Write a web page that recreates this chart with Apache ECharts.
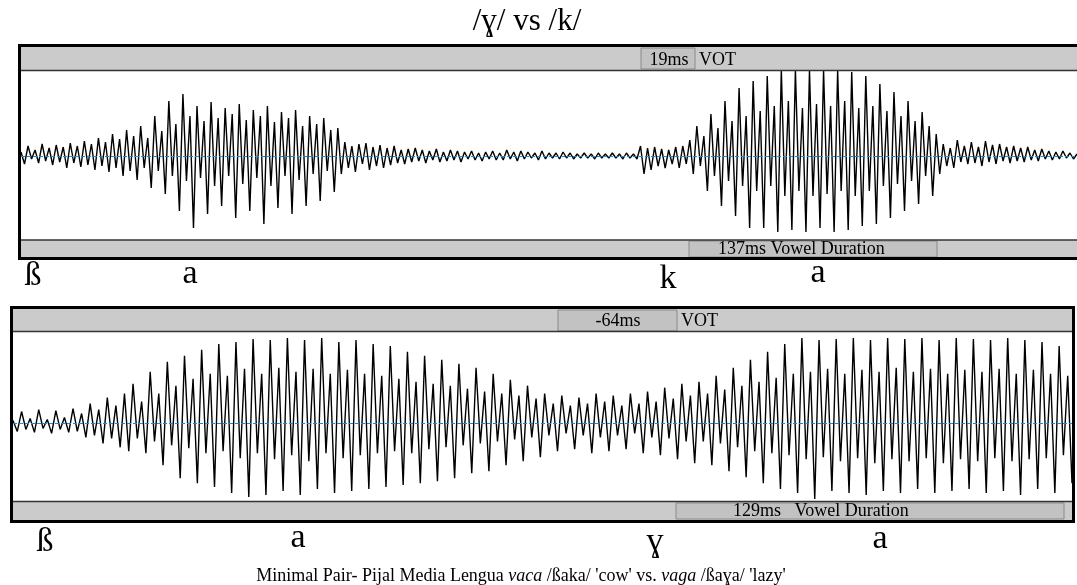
<!DOCTYPE html>
<html>
<head>
<meta charset="utf-8">
<title>/ɣ/ vs /k/</title>
<script src="https://cdn.jsdelivr.net/npm/echarts@6/dist/echarts.min.js"></script>
<style>
  body { margin: 0; background: #fff; }
  #container { width: 1077px; height: 585px; }
</style>
</head>
<body>
<div id="container"></div>
<script type="text/javascript">

// waveform extremes, amplitude units (+ = up)
// top panel: vaca /ßaka/
var topBeta = [4,-8,10,-3,6,-7,12,-5,8,-9,11,-6,9,-12,13,-7,10,-11,15,-9,12,-14,18,-10,14,-16,22,-12,17,-20,26,-15,20,-24];
var topA1 = [30,-12,18,-32, 40,-15,25,-38, 55,-20,32,-55, 62,-25,40,-72, 50,-22,35,-58, 54,-30,38,-50,
             48,-20,42,-62, 52,-28,36,-55, 46,-22,40,-68, 50,-30,34,-52, 44,-20,38,-58, 46,-24,30,-50,
             40,-18,32,-45, 38,-15,26,-36, 28,-18];
var topGap = [14,-12,10,-16,12,-8,13,-14,9,-10, 11,-12,8,-9,10,-7,6,-8,7,-6, 8,-5,6,-7,5,-4,7,-6,4,-5,
              6,-4,5,-6,4,-3,5,-4,3,-5, 4,-3,5,-4,3,-4,6,-3,4,-5, 5,-3,4,-2,3,-4,5,-3,3,-2,
              3,-3,4,-2,3,-3,2,-2,3,-2, 2,-3,3,-2,2,-2,3,-2,2,-3, 3,-2,2,-3];
var topK = [10,-18,8,-14,9,-10,7,-12,6,-8,9,-12,10,-8,16,-18];
var topA2 = [30,-10,20,-35, 42,-20,28,-50, 55,-25,35,-60, 68,-30,40,-72, 75,-35,45,-72, 80,-30,50,-76,
             86,-40,55,-74, 86,-35,48,-76, 86,-40,52,-72, 86,-38,50,-76, 86,-35,55,-74, 84,-40,48,-70,
             80,-35,50,-68, 72,-30,45,-62, 64,-28,40,-55, 55,-25,35,-48, 44,-20,30,-40];
var topTail = [22,-18,12,-10,8,-12,16,-6,10,-8, 14,-7,9,-10,15,-6,11,-8,12,-5, 9,-7,10,-5,8,-6,9,-4,6,-5,
               7,-3,5,-4,4,-3,5,-2,3,-3, 2];

// bottom panel: vaga /ßaɣa/
var botBeta = [3,-8,12,-6, 5,-9,14,-5, 4,-10,13,-6, 6,-9,15,-8, 10,-14,20,-12, 14,-20,26,-15, 18,-24,30,-28];
var botA1 = [40,-15,22,-30, 52,-18,30,-42, 62,-22,38,-55, 68,-25,45,-60, 74,-30,50,-64, 80,-28,48,-70,
             82,-35,55,-74, 85,-30,50,-72, 84,-36,56,-68, 86,-32,52,-72, 84,-38,55,-66, 86,-30,50,-70,
             82,-35,54,-68, 84,-32,50,-66, 80,-30,48,-64, 78,-28,45,-62, 72,-30,42,-60, 68,-26,40,-58,
             64,-24,38,-55, 60,-22,35,-50, 56,-20,32,-48, 50,-18,30,-42, 44,-16,28,-38, 38,-14,25,-34];
var botG = [30,-12,20,-28, 28,-10,18,-26, 26,-12,20,-30, 30,-14,22,-28, 28,-12,18,-26, 30,-10,20,-30,
            32,-14,22,-32, 36,-15,25,-36, 40,-18,28,-40];
var botA2 = [42,-18,30,-42, 48,-20,34,-48, 56,-24,38,-54, 64,-28,42,-60, 72,-30,46,-66, 80,-32,50,-70,
             86,-36,52,-76, 84,-34,55,-68, 85,-38,50,-70, 86,-35,54,-72, 84,-40,52,-68, 86,-36,56,-70,
             85,-38,52,-66, 86,-35,55,-70, 84,-40,50,-68, 86,-36,54,-66, 85,-38,52,-70, 84,-35,55,-68,
             86,-38,50,-72, 84,-36,54,-66, 82,-35,50,-70, 78,-32,48,-60];

var topWave = topBeta.concat(topA1, topGap, topK, topA2, topTail);
var botWave = botBeta.concat(botA1, botG, botA2);

var title = '/ɣ/ vs /k/';
var topSegs = ['ß', 'a', 'k', 'a'];
var botSegs = ['ß', 'a', 'ɣ', 'a'];
var topVot = ['19ms', 'VOT'];
var botVot = ['-64ms', 'VOT'];
var topVowel = '137ms Vowel Duration';
var botVowel = '129ms   Vowel Duration';

var SERIF = '"Liberation Serif", "Times New Roman", serif';

function toXY(arr) {
    return arr.map(function (v, i) { return [i, v]; });
}
function txt(x, y, s, size, align) {
    return {
        type: 'text', x: x, y: y, z: 10,
        style: { text: s, font: size + 'px ' + SERIF, fill: '#000',
                 textAlign: align || 'center', textVerticalAlign: 'middle' }
    };
}
function rect(x, y, w, h, fill, stroke, lw) {
    return {
        type: 'rect', z: 5, shape: { x: x, y: y, width: w, height: h },
        style: { fill: fill, stroke: stroke || null, lineWidth: lw || 0 }
    };
}
function hline(x1, x2, y, color, lw) {
    return {
        type: 'line', z: 6, shape: { x1: x1, y1: y, x2: x2, y2: y },
        style: { stroke: color, lineWidth: lw }
    };
}

var gfx = [
    txt(527, 22, title, 31),

    // top panel frame
    rect(21, 47, 1060, 23, '#cbcbcb'),
    hline(21, 1081, 70.5, '#333', 1.5),
    rect(641, 48, 54, 21, '#c2c2c2', '#8a8a8a', 1),
    txt(669, 60, topVot[0], 18),
    txt(699, 60, topVot[1], 18, 'left'),
    rect(21, 240, 1060, 18, '#cbcbcb'),
    hline(21, 1081, 240, '#333', 1.5),
    rect(689, 241, 248, 16, '#c2c2c2', '#8a8a8a', 1),
    txt(718, 249.5, topVowel, 18, 'left'),
    rect(19.5, 45.5, 1075, 213, 'none', '#000', 3),

    // bottom panel frame
    rect(13, 309, 1059, 22, '#cbcbcb'),
    hline(13, 1072, 331.5, '#333', 1.5),
    rect(558, 310, 119, 21, '#c2c2c2', '#8a8a8a', 1),
    txt(618, 321, botVot[0], 18),
    txt(681, 321, botVot[1], 18, 'left'),
    rect(13, 502, 1059, 18, '#cbcbcb'),
    hline(13, 1072, 501.5, '#333', 1.5),
    rect(676, 503, 388, 16, '#c2c2c2', '#8a8a8a', 1),
    txt(733, 511.5, botVowel, 18, 'left'),
    rect(11.5, 307.5, 1062, 214, 'none', '#000', 3),

    // segment labels
    txt(33, 276, topSegs[0], 34), txt(190, 274, topSegs[1], 34),
    txt(668, 279, topSegs[2], 34), txt(818, 273, topSegs[3], 34),
    txt(45, 542, botSegs[0], 34), txt(298, 538, botSegs[1], 34),
    txt(655, 542, botSegs[2], 34), txt(880, 539, botSegs[3], 34),

    {
        type: 'text', x: 521, y: 576, z: 10,
        style: {
            text: '{n|Minimal Pair- Pijal Media Lengua }{i|vaca}{n| /ßaka/ \'cow\' vs. }{i|vaga}{n| /ßaɣa/ \'lazy\'}',
            textAlign: 'center', textVerticalAlign: 'middle',
            rich: {
                n: { font: '18px ' + SERIF, fill: '#000' },
                i: { font: 'italic 18px ' + SERIF, fill: '#000' }
            }
        }
    }
];

var centerLine = {
    silent: true, symbol: 'none', label: { show: false },
    lineStyle: { color: '#1a8ad4', type: 'dashed', width: 1 },
    data: [{ yAxis: 0 }]
};

var myChart = echarts.init(document.getElementById('container'), null, { renderer: 'canvas' });
myChart.setOption({
    animation: false,
    grid: [
        { left: 21, top: 70, width: 1058, height: 170 },
        { left: 13, top: 332, width: 1059, height: 169 }
    ],
    xAxis: [
        { gridIndex: 0, type: 'value', min: 0, max: topWave.length - 1, show: false },
        { gridIndex: 1, type: 'value', min: 0, max: botWave.length - 1, show: false }
    ],
    yAxis: [
        { gridIndex: 0, type: 'value', min: -84, max: 86, show: false },
        { gridIndex: 1, type: 'value', min: -78, max: 92, show: false }
    ],
    series: [
        {
            type: 'line', xAxisIndex: 0, yAxisIndex: 0, data: toXY(topWave),
            symbol: 'none', lineStyle: { color: '#000', width: 1.4 },
            markLine: centerLine
        },
        {
            type: 'line', xAxisIndex: 1, yAxisIndex: 1, data: toXY(botWave),
            symbol: 'none', lineStyle: { color: '#000', width: 1.4 },
            markLine: centerLine
        }
    ],
    graphic: gfx
});
</script>
</body>
</html>
